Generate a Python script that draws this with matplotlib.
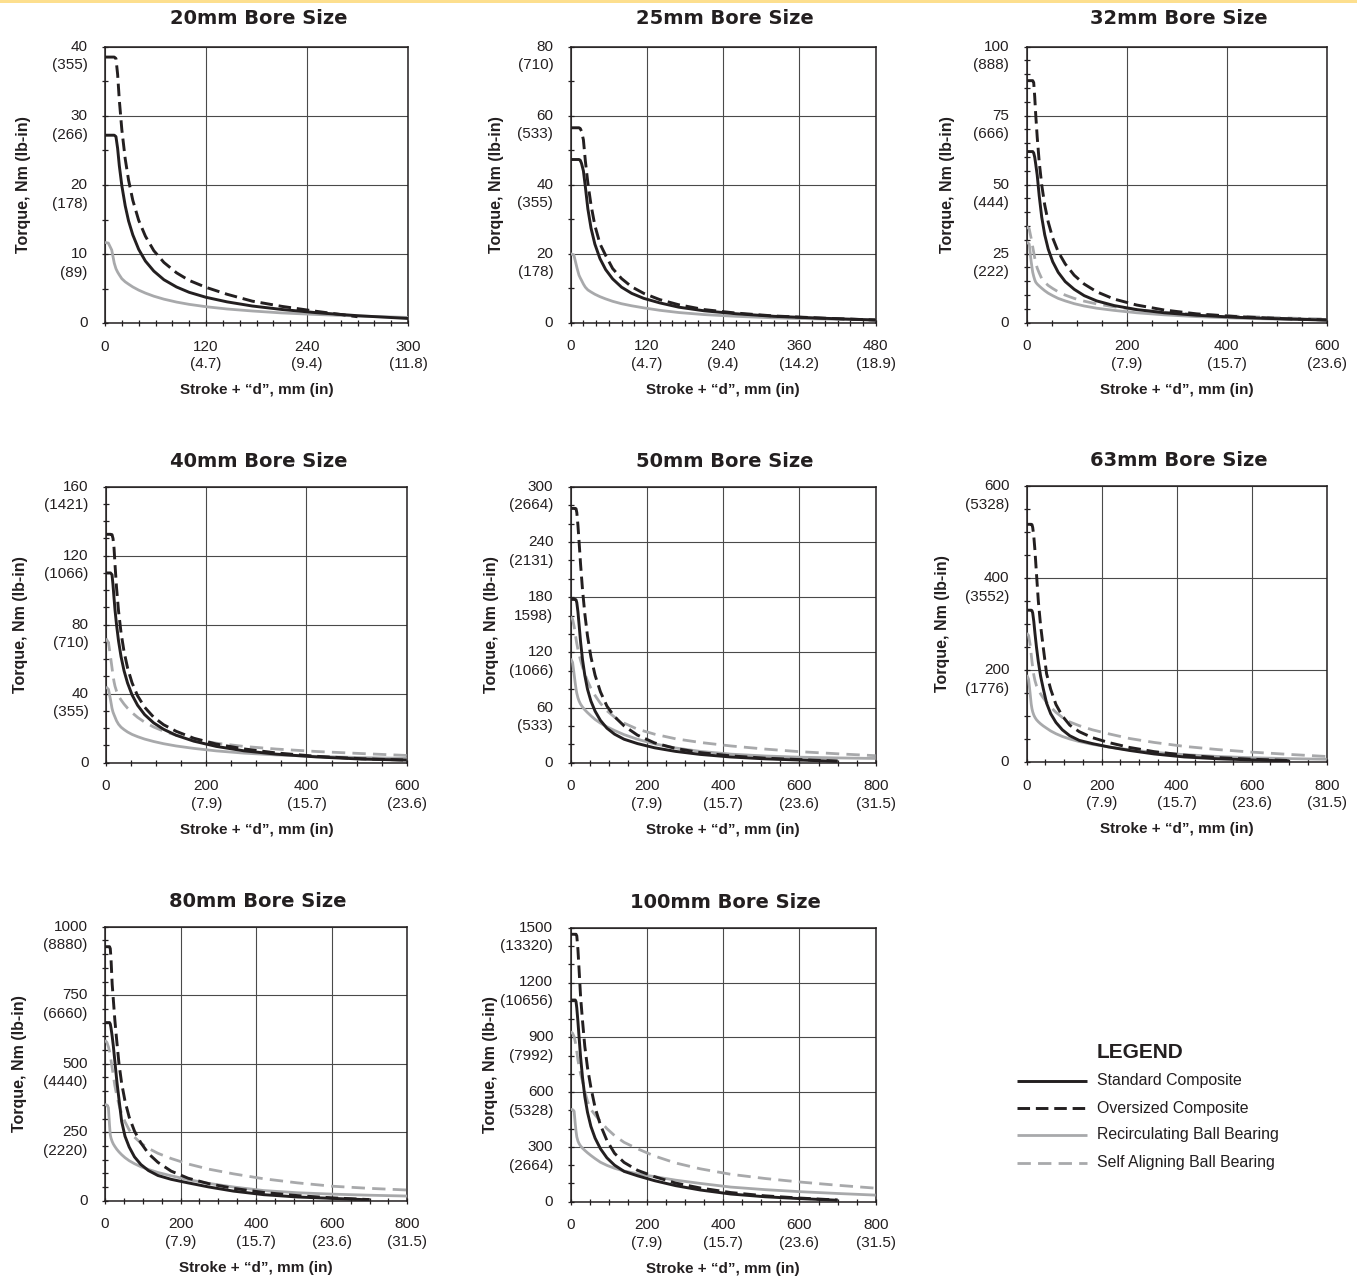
import numpy as np
import matplotlib
matplotlib.use("Agg")
import matplotlib.pyplot as plt
from matplotlib.ticker import MultipleLocator, FixedLocator
from matplotlib.lines import Line2D
from matplotlib.patches import Rectangle

nan = float("nan")

# ---------------- DATA ----------------
# 20mm bore  (x axis drawn 0..360, last label printed "300")
X20 = [0, 4, 8, 11, 13, 15, 17, 20, 24, 28, 33, 40, 48, 58, 70, 85, 100, 120, 145, 175, 210, 250, 300, 360]
STD20 = [27.2, 27.2, 27.2, 27.2, 27.0, 25.3, 22.8, 19.9, 17.0, 14.8, 12.8, 10.7, 9.0, 7.55, 6.3, 5.25, 4.48, 3.76, 3.1, 2.5, 2.0, 1.55, 1.1, 0.7]
OVR20 = [38.5, 38.5, 38.5, 38.5, 38.3, 36.0, 32.3, 28.0, 23.8, 20.7, 17.8, 14.9, 12.6, 10.5, 8.8, 7.3, 6.2, 5.2, 4.2, 3.2, 2.45, 1.75, 0.95, nan]
REC20 = [11.7, 11.6, 10.6, 8.7, 7.9, 7.4, 7.0, 6.45, 6.0, 5.66, 5.26, 4.8, 4.37, 3.92, 3.49, 3.07, 2.74, 2.4, 2.07, 1.78, 1.5, 1.28, 1.05, 0.85]

# 25mm bore
X25 = [0, 5, 10, 13, 15, 17, 20, 23, 27, 32, 38, 46, 55, 66, 80, 96, 115, 140, 170, 210, 260, 320, 400, 480]
STD25 = [47.3, 47.3, 47.3, 47.3, 47.1, 46.2, 44.0, 39.5, 33.0, 27.4, 22.8, 18.6, 15.4, 12.7, 10.3, 8.5, 7.05, 5.75, 4.5, 3.45, 2.6, 1.85, 1.27, 0.77]
OVR25 = [56.5, 56.5, 56.5, 56.5, 56.3, 55.5, 53.0, 47.0, 40.5, 34.1, 28.2, 22.9, 19.5, 15.7, 12.8, 10.4, 8.5, 6.7, 5.2, 3.8, 2.8, 1.95, 1.3, 0.78]
REC25 = [20.0, 19.6, 15.8, 13.8, 13.0, 12.3, 11.2, 10.3, 9.5, 8.9, 8.25, 7.55, 6.9, 6.2, 5.5, 4.9, 4.3, 3.6, 2.95, 2.35, 1.85, 1.4, 1.05, 0.8]

# 32mm bore
X32 = [0, 5, 9, 12, 14, 16, 18, 21, 25, 30, 36, 43, 52, 63, 77, 95, 115, 140, 175, 220, 275, 340, 420, 510, 600]
STD32 = [62, 62, 62, 62, 61.5, 60, 57.5, 53.5, 46, 38.3, 31.9, 26.7, 22.1, 18.25, 14.9, 12.1, 9.8, 7.9, 6.2, 4.75, 3.6, 2.7, 1.95, 1.4, 0.95]
OVR32 = [87.7, 87.7, 87.7, 87.7, 87.0, 82, 75.5, 67.3, 58.3, 50, 42.7, 36.5, 30.7, 25.7, 21.3, 17.2, 14.0, 11.2, 8.55, 6.4, 4.6, 3.2, 2.2, 1.5, 1.0]
REC32 = [29.3, 28.5, 22, 18.3, 16.8, 15.6, 14.7, 14.0, 13.3, 12.5, 11.6, 10.7, 9.8, 8.8, 7.9, 6.9, 6.05, 5.25, 4.45, 3.6, 2.85, 2.2, 1.65, 1.25, 1.0]
SAB32 = [34.8, 34.0, 30.5, 27.5, 25.5, 23.5, 21.8, 19.8, 18.0, 16.0, 14.7, 13.5, 12.4, 11.2, 10.0, 8.8, 7.8, 6.8, 5.75, 4.7, 3.8, 3.05, 2.35, 1.75, 1.3]

# 40mm bore
X40 = [0, 5, 9, 12, 14, 16, 18, 21, 25, 30, 36, 43, 52, 63, 77, 95, 115, 140, 175, 220, 275, 340, 420, 510, 600]
STD40 = [110, 110, 110, 109, 103, 95.5, 88.5, 80, 70.6, 61.5, 53.3, 46.2, 39.3, 33.3, 27.9, 23.1, 19.35, 15.9, 12.5, 9.45, 6.9, 4.95, 3.35, 2.1, 1.5]
OVR40 = [132.4, 132.4, 132.4, 132.2, 130, 124.5, 114.8, 101.5, 88, 75.4, 64.4, 55, 46.3, 38.8, 32.2, 26.4, 22.0, 18.2, 14.2, 10.8, 8.0, 5.65, 3.7, 2.3, 1.5]
REC40 = [44, 42.5, 36.5, 31.5, 29.3, 27.8, 26.4, 24.3, 22.3, 20.6, 19.2, 17.8, 16.4, 15.1, 13.7, 12.3, 11.0, 9.7, 8.3, 6.85, 5.55, 4.5, 3.65, 2.95, 2.5]
SAB40 = [72, 69.5, 61.5, 55, 50.5, 47, 44.3, 41.5, 38.6, 36.4, 34.0, 31.6, 29.0, 26.3, 23.5, 20.7, 18.3, 15.95, 13.5, 11.3, 9.45, 7.9, 6.5, 5.3, 4.2]

# 50mm bore
X50 = [0, 5, 9, 12, 14, 16, 19, 22, 26, 31, 37, 44, 53, 64, 78, 95, 115, 140, 175, 220, 275, 340, 420, 510, 600, 700, 800]
STD50 = [177.5, 177.5, 177.5, 177.5, 177, 174, 164, 150, 131, 112, 95, 80, 67, 56, 46, 37.5, 31, 25.5, 20.8, 16.2, 12.3, 9.0, 6.2, 4.2, 2.9, 1.5, nan]
OVR50 = [276.4, 276.4, 276.4, 276.4, 276, 272, 258, 240, 215, 188, 162, 138, 115, 95, 77, 61.5, 50, 40, 30, 21.5, 15.5, 11, 7.4, 4.9, 3.4, 1.8, nan]
REC50 = [113, 109, 96, 86, 80, 75.5, 70.5, 67, 63.5, 60.5, 57.5, 54.5, 51, 47, 43, 39, 35, 30.5, 25.5, 20.5, 16, 12.3, 9.3, 7.3, 6.0, 5.2, 4.6]
SAB50 = [158.7, 156, 148, 140, 134.5, 129.5, 123, 117.5, 111, 104, 96.5, 89, 81, 73, 64.5, 56.5, 49.5, 43, 36.5, 31, 26, 22, 18.2, 14.8, 12, 9.7, 7.6]

# 63mm bore
X63 = [0, 5, 9, 12, 14, 16, 19, 22, 26, 31, 37, 44, 53, 64, 78, 95, 115, 140, 175, 220, 275, 340, 420, 510, 600, 700, 800]
STD63 = [330, 330, 330, 330, 329, 324, 305, 280, 250, 218, 187, 160, 128, 105, 86, 70, 57, 47, 40, 32.5, 25, 17.5, 11, 7.0, 4.5, 2.3, nan]
OVR63 = [516.7, 516.7, 516.7, 516.7, 516, 510, 490, 460, 410, 350, 297, 250, 192, 158, 125, 100, 80, 66, 53, 42, 31.5, 22.5, 15, 9.5, 6.0, 3.2, nan]
REC63 = [189, 180, 150, 126, 116, 109, 102, 97, 92, 87.5, 83, 78.5, 73.5, 67.5, 61.5, 55.5, 50, 44.5, 38.5, 32.5, 26.5, 21, 16, 12, 9.3, 7.3, 6]
SAB63 = [280, 275, 256, 234, 219, 206, 189, 177, 166, 157, 148, 139.5, 130, 119.5, 108, 97, 87, 79, 70, 61, 51, 42.5, 34, 27, 21.5, 16.5, 12]

# 80mm bore
X80 = [0, 5, 9, 12, 14, 16, 19, 22, 26, 31, 37, 44, 53, 64, 78, 95, 115, 140, 175, 220, 275, 340, 420, 510, 600, 700, 800]
STD80 = [650, 650, 650, 650, 645, 630, 600, 565, 510, 440, 370, 290, 235, 196, 160, 132, 110, 92, 78, 65, 50, 35, 22, 13.5, 8.5, 3.2, nan]
OVR80 = [927, 927, 927, 927, 920, 880, 790, 735, 660, 585, 500, 429, 363, 305, 254, 211, 172, 140, 108, 82, 62, 45, 30, 18.5, 10.5, 4, nan]
REC80 = [351, 349, 340, 275, 240, 228, 216, 207, 198, 188, 178, 168, 157, 146, 135, 124, 114, 103, 91, 77, 63, 50, 37, 29, 24, 20, 17]
SAB80 = [586, 578, 562, 545, 530, 512, 485, 458, 420, 385, 350, 318, 288, 258, 232, 210, 191, 173, 154, 134, 115, 98, 80, 65, 53, 45, 39]

# 100mm bore
X100 = [0, 5, 9, 12, 14, 16, 19, 22, 26, 31, 37, 44, 53, 64, 78, 95, 115, 140, 175, 220, 275, 340, 420, 510, 600, 700, 800]
STD100 = [1104, 1104, 1104, 1104, 1095, 1060, 985, 900, 790, 680, 575, 490, 412, 348, 290, 240, 200, 166, 142, 115, 88, 64, 42, 27, 17, 8, nan]
OVR100 = [1464, 1464, 1464, 1464, 1464, 1455, 1380, 1270, 1120, 990, 850, 735, 625, 515, 420, 335, 265, 215, 172, 137, 102, 75, 50, 32, 20, 9, nan]
REC100 = [505, 504, 495, 425, 385, 355, 332, 318, 305, 293, 281, 268, 253, 236, 216, 199, 183, 168, 153, 137, 118, 100, 80, 66, 55, 45, 36]
SAB100 = [930, 922, 903, 875, 852, 822, 775, 740, 700, 660, 605, 550, 505, 475, 440, 400, 362, 325, 290, 250, 212, 180, 150, 127, 108, 90, 74]

TITLES = ["20mm Bore Size", "25mm Bore Size", "32mm Bore Size", "40mm Bore Size",
          "50mm Bore Size", "63mm Bore Size", "80mm Bore Size", "100mm Bore Size"]

XT20 = [0, 120, 240, 360]
XL20 = [("0", ""), ("120", "(4.7)"), ("240", "(9.4)"), ("300", "(11.8)")]
XT25 = [0, 120, 240, 360, 480]
XL25 = [("0", ""), ("120", "(4.7)"), ("240", "(9.4)"), ("360", "(14.2)"), ("480", "(18.9)")]
XT600 = [0, 200, 400, 600]
XL600 = [("0", ""), ("200", "(7.9)"), ("400", "(15.7)"), ("600", "(23.6)")]
XT800 = [0, 200, 400, 600, 800]
XL800 = [("0", ""), ("200", "(7.9)"), ("400", "(15.7)"), ("600", "(23.6)"), ("800", "(31.5)")]

YT20 = [0, 10, 20, 30, 40]
YL20 = [("0", ""), ("10", "(89)"), ("20", "(178)"), ("30", "(266)"), ("40", "(355)")]
YT25 = [0, 20, 40, 60, 80]
YL25 = [("0", ""), ("20", "(178)"), ("40", "(355)"), ("60", "(533)"), ("80", "(710)")]
YT32 = [0, 25, 50, 75, 100]
YL32 = [("0", ""), ("25", "(222)"), ("50", "(444)"), ("75", "(666)"), ("100", "(888)")]
YT40 = [0, 40, 80, 120, 160]
YL40 = [("0", ""), ("40", "(355)"), ("80", "(710)"), ("120", "(1066)"), ("160", "(1421)")]
YT50 = [0, 60, 120, 180, 240, 300]
YL50 = [("0", ""), ("60", "(533)"), ("120", "(1066)"), ("180", "1598)"), ("240", "(2131)"), ("300", "(2664)")]
YT63 = [0, 200, 400, 600]
YL63 = [("0", ""), ("200", "(1776)"), ("400", "(3552)"), ("600", "(5328)")]
YT80 = [0, 250, 500, 750, 1000]
YL80 = [("0", ""), ("250", "(2220)"), ("500", "(4440)"), ("750", "(6660)"), ("1000", "(8880)")]
YT100 = [0, 300, 600, 900, 1200, 1500]
YL100 = [("0", ""), ("300", "(2664)"), ("600", "(5328)"), ("900", "(7992)"), ("1200", "(10656)"), ("1500", "(13320)")]

LEGEND_LABELS = ["Standard Composite", "Oversized Composite",
                 "Recirculating Ball Bearing", "Self Aligning Ball Bearing"]

# ---------------- STYLE / LAYOUT ----------------
W, H = 1357, 1278
BLACK = "#231f20"
GRAY = "#a8a9ab"
GRID = "#4a4a4a"
plt.rcParams["font.family"] = ["Liberation Sans", "DejaVu Sans"]

STY = {
    "std": dict(color=BLACK, lw=2.1, solid_capstyle="butt", solid_joinstyle="round"),
    "ovr": dict(color=BLACK, lw=2.1, dashes=(4.3, 2.0), dash_capstyle="butt", dash_joinstyle="round"),
    "rec": dict(color=GRAY, lw=2.0, solid_capstyle="butt", solid_joinstyle="round"),
    "sab": dict(color=GRAY, lw=2.0, dashes=(4.8, 2.6), dash_capstyle="butt", dash_joinstyle="round"),
}

panels = [
    dict(box=(105, 46.7, 408, 323.3), xmax=360, xt=XT20, xl=XL20, xmin_step=20,
         ymax=40, yt=YT20, yl=YL20, ymin_step=5, title_dy=28, ylab_dx=82,
         series=[("rec", X20, REC20), ("std", X20, STD20), ("ovr", X20, OVR20)]),
    dict(box=(570.7, 46.7, 875.7, 322.7), xmax=480, xt=XT25, xl=XL25, xmin_step=20,
         ymax=80, yt=YT25, yl=YL25, ymin_step=10, title_dy=28, ylab_dx=74,
         series=[("rec", X25, REC25), ("std", X25, STD25), ("ovr", X25, OVR25)]),
    dict(box=(1026.7, 46.7, 1326.7, 322.7), xmax=600, xt=XT600, xl=XL600, xmin_step=50,
         ymax=100, yt=YT32, yl=YL32, ymin_step=5, title_dy=28, ylab_dx=79,
         series=[("sab", X32, SAB32), ("rec", X32, REC32), ("std", X32, STD32), ("ovr", X32, OVR32)]),
    dict(box=(106, 486.7, 406.7, 762.7), xmax=600, xt=XT600, xl=XL600, xmin_step=50,
         ymax=160, yt=YT40, yl=YL40, ymin_step=10, title_dy=25, ylab_dx=86,
         series=[("sab", X40, SAB40), ("rec", X40, REC40), ("std", X40, STD40), ("ovr", X40, OVR40)]),
    dict(box=(570.7, 486.7, 875.7, 762.7), xmax=800, xt=XT800, xl=XL800, xmin_step=50,
         ymax=300, yt=YT50, yl=YL50, ymin_step=20, title_dy=25, ylab_dx=79,
         series=[("sab", X50, SAB50), ("rec", X50, REC50), ("std", X50, STD50), ("ovr", X50, OVR50)]),
    dict(box=(1026.7, 486.0, 1326.7, 762.0), xmax=800, xt=XT800, xl=XL800, xmin_step=50,
         ymax=600, yt=YT63, yl=YL63, ymin_step=50, title_dy=25, ylab_dx=84,
         series=[("sab", X63, SAB63), ("rec", X63, REC63), ("std", X63, STD63), ("ovr", X63, OVR63)]),
    dict(box=(105, 926.7, 407.3, 1200.7), xmax=800, xt=XT800, xl=XL800, xmin_step=50,
         ymax=1000, yt=YT80, yl=YL80, ymin_step=50, title_dy=25, ylab_dx=85,
         series=[("sab", X80, SAB80), ("rec", X80, REC80), ("std", X80, STD80), ("ovr", X80, OVR80)]),
    dict(box=(570.7, 927.7, 875.7, 1201.7), xmax=800, xt=XT800, xl=XL800, xmin_step=50,
         ymax=1500, yt=YT100, yl=YL100, ymin_step=100, title_dy=25, ylab_dx=80,
         series=[("sab", X100, SAB100), ("rec", X100, REC100), ("std", X100, STD100), ("ovr", X100, OVR100)]),
]

fig = plt.figure(figsize=(W / 100, H / 100), dpi=100)
fig.patch.set_facecolor("white")

# thin yellow band at the very top
fig.add_artist(Rectangle((0, 1 - 2.5 / H), 1, 2.5 / H, transform=fig.transFigure,
                         facecolor="#fddf8e", edgecolor="none"))

TICK_FS = 11
for title, p in zip(TITLES, panels):
    l, t, r, b = p["box"]
    axw, axh = r - l, b - t
    ax = fig.add_axes([l / W, 1 - b / H, axw / W, axh / H])
    ax.set_xlim(0, p["xmax"])
    ax.set_ylim(0, p["ymax"])
    ax.xaxis.set_major_locator(FixedLocator(p["xt"]))
    ax.yaxis.set_major_locator(FixedLocator(p["yt"]))
    ax.xaxis.set_minor_locator(MultipleLocator(p["xmin_step"]))
    ax.yaxis.set_minor_locator(MultipleLocator(p["ymin_step"]))
    ax.tick_params(which="both", direction="inout", length=5, width=0.9, color=BLACK,
                   labelbottom=False, labelleft=False, top=False, right=False)
    ax.grid(True, which="major", color=GRID, lw=0.8)
    ax.set_axisbelow(True)
    for s in ax.spines.values():
        s.set_color(BLACK)
        s.set_linewidth(1.1)

    for key, xs, ys in p["series"]:
        ax.plot(xs, ys, zorder=3, **STY[key])

    # two-line tick labels
    ytr = ax.get_yaxis_transform()
    xtr = ax.get_xaxis_transform()
    for v, (a, bb) in zip(p["yt"], p["yl"]):
        ax.annotate(a, xy=(0, v), xycoords=ytr, xytext=(-12.5, 0),
                    textcoords="offset points", ha="right", va="center", fontsize=TICK_FS,
                    color=BLACK, annotation_clip=False)
        if bb:
            ax.annotate(bb, xy=(0, v), xycoords=ytr, xytext=(-12.5, -13.5),
                        textcoords="offset points", ha="right", va="center", fontsize=TICK_FS,
                        color=BLACK, annotation_clip=False)
    for v, (a, bb) in zip(p["xt"], p["xl"]):
        ax.annotate(a, xy=(v, 0), xycoords=xtr, xytext=(0, -17),
                    textcoords="offset points", ha="center", va="center", fontsize=TICK_FS,
                    color=BLACK, annotation_clip=False)
        if bb:
            ax.annotate(bb, xy=(v, 0), xycoords=xtr, xytext=(0, -29.5),
                        textcoords="offset points", ha="center", va="center", fontsize=TICK_FS,
                        color=BLACK, annotation_clip=False)

    ax.text(0.5 + 2 / axw, 1 + p["title_dy"] / axh, title, transform=ax.transAxes,
            ha="center", va="center", fontsize=14, fontweight="bold",
            family=["DejaVu Sans"], color=BLACK)
    ax.text(-p["ylab_dx"] / axw, 0.5, "Torque, Nm (lb-in)", transform=ax.transAxes,
            rotation=90, ha="center", va="center", fontsize=11.5, fontweight="bold", color=BLACK)
    ax.text(0.5, -67 / axh, "Stroke + \u201cd\u201d, mm (in)", transform=ax.transAxes,
            ha="center", va="center", fontsize=11, fontweight="bold", color=BLACK)

# ---------------- LEGEND ----------------
def fx(x):
    return x / W

def fy(y):
    return 1 - y / H

fig.text(fx(1097), fy(1052), "LEGEND", ha="left", va="center", fontsize=15,
         fontweight="bold", color=BLACK)
rows_y = [1081, 1108, 1135, 1163]
for key, lab, yy in zip(["std", "ovr", "rec", "sab"], LEGEND_LABELS, rows_y):
    st = dict(STY[key])
    fig.add_artist(Line2D([fx(1017), fx(1087)], [fy(yy), fy(yy)], transform=fig.transFigure, **st))
    fig.text(fx(1097), fy(yy), lab, ha="left", va="center", fontsize=11.4, color=BLACK)

fig.savefig("out.png", dpi=100, facecolor="white")
